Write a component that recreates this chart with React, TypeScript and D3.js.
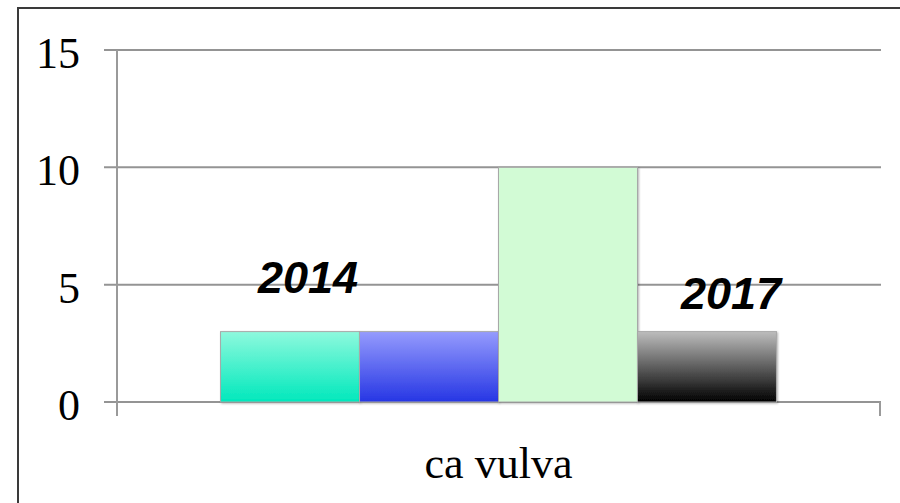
import React, { useEffect, useRef } from 'react';
import * as d3 from 'd3';

const categories = ['ca vulva'];
const seriesNames = ['2014', '2015', '2016', '2017'];
const seriesValues = [3, 3, 10, 3];
const yTicks = [0, 5, 10, 15];
const annotations = [
  { text: '2014', series: 0 },
  { text: '2017', series: 3 },
];

const App = () => {
  const ref = useRef<SVGSVGElement | null>(null);

  useEffect(() => {
    const svg = d3.select(ref.current);
    svg.selectAll('*').remove();

    const left = 117, right = 880, top = 50, bottom = 402;

    var defs = svg.append('defs');
    var grads = [
      ['#8ef9dd', '#00e8bc'],
      ['#959bfd', '#2636e4'],
      null,
      ['#bdbdbd', '#000000'],
    ];
    grads.forEach((g, i) => {
      if (!g) return;
      const lg = defs.append('linearGradient')
        .attr('id', 'g' + i)
        .attr('x1', 0).attr('y1', 0).attr('x2', 0).attr('y2', 1);
      lg.append('stop').attr('offset', '0%').attr('stop-color', g[0]);
      lg.append('stop').attr('offset', '100%').attr('stop-color', g[1]);
    });
    const shadow = defs.append('filter').attr('id', 'shadow')
      .attr('x', '-10%').attr('y', '-10%').attr('width', '130%').attr('height', '130%');
    shadow.append('feDropShadow').attr('dx', 1).attr('dy', 1)
      .attr('stdDeviation', 1.2).attr('flood-opacity', 0.3);

    // outer frame
    svg.append('rect')
      .attr('x', 18).attr('y', 8).attr('width', 900).attr('height', 520)
      .attr('fill', 'white').attr('stroke', '#3a3a3a').attr('stroke-width', 2);

    var y = d3.scaleLinear().domain([0, 15]).range([bottom, top]);
    var x = d3.scaleBand().domain(categories).range([left, right]).padding(0.157);
    var xs = d3.scaleBand().domain(seriesNames).range([0, x.bandwidth()]);

    // gridlines
    svg.append('g').selectAll('line').data(yTicks).enter().append('line')
      .attr('x1', left - 13).attr('x2', right + 1)
      .attr('y1', d => y(d)).attr('y2', d => y(d))
      .attr('stroke', '#949494').attr('stroke-width', 2);

    // axis lines
    svg.append('line').attr('x1', left).attr('x2', left)
      .attr('y1', top).attr('y2', bottom + 14)
      .attr('stroke', '#9a9a9a').attr('stroke-width', 2);
    svg.append('line').attr('x1', right).attr('x2', right)
      .attr('y1', bottom).attr('y2', bottom + 14)
      .attr('stroke', '#9a9a9a').attr('stroke-width', 2);

    // y tick labels
    svg.append('g').selectAll('text').data(yTicks).enter().append('text')
      .attr('x', 80).attr('y', d => y(d) + 18)
      .attr('text-anchor', 'end')
      .attr('font-family', '"Liberation Serif", "Times New Roman", serif')
      .attr('font-size', 44).attr('fill', '#000')
      .text(d => d);

    // bars
    const x0 = x(categories[0]) as number;
    svg.append('g').selectAll('rect').data(seriesValues).enter().append('rect')
      .attr('x', (d, i) => x0 + (xs(seriesNames[i]) as number))
      .attr('y', d => y(d))
      .attr('width', xs.bandwidth())
      .attr('height', d => bottom - y(d))
      .attr('fill', (d, i) => grads[i] ? 'url(#g' + i + ')' : '#d2fbd5')
      .attr('stroke', '#a8a8a8').attr('stroke-width', 1)
      .attr('filter', 'url(#shadow)');

    // annotations
    svg.append('g').selectAll('text').data(annotations).enter().append('text')
      .attr('x', d => x0 + (xs(seriesNames[d.series]) as number) + xs.bandwidth() / 2 + (d.series === 0 ? 18 : 24))
      .attr('y', d => y(seriesValues[d.series]) - (d.series === 0 ? 39 : 23))
      .attr('text-anchor', 'middle')
      .attr('font-family', '"Liberation Sans", Arial, sans-serif')
      .attr('font-weight', 'bold').attr('font-style', 'italic')
      .attr('font-size', 45).attr('fill', '#000')
      .text(d => d.text);

    // category label
    svg.append('text')
      .attr('x', (x0 + x.bandwidth() / 2))
      .attr('y', 478)
      .attr('text-anchor', 'middle')
      .attr('font-family', '"Liberation Serif", "Times New Roman", serif')
      .attr('font-size', 44).attr('fill', '#000')
      .text(categories[0]);
  }, []);

  return (
    <div style={{ position: 'absolute', left: 0, top: 0 }}>
      <svg ref={ref} width={900} height={503} style={{ display: 'block' }}></svg>
    </div>
  );
};

export default App;
